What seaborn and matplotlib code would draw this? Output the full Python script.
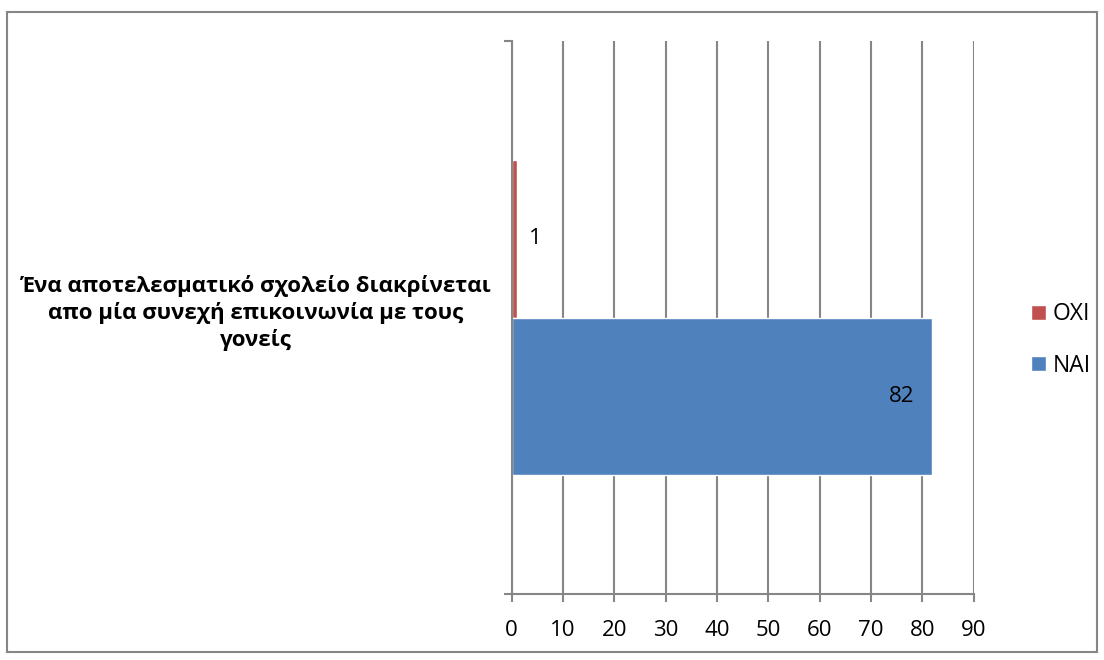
import pandas as pd
import matplotlib.pyplot as plt
import matplotlib.patches as mpatches
import seaborn as sns

question = "Ένα αποτελεσματικό σχολείο διακρίνεται\nαπο μία συνεχή επικοινωνία με τους\nγονείς"
answers = ["ΟΧΙ", "ΝΑΙ"]
counts = [1, 82]
x_ticks = [0, 10, 20, 30, 40, 50, 60, 70, 80, 90]

red = "#C0504D"
blue = "#4F81BD"
gray = "#868686"

a = pd.DataFrame({"question": [question] * len(answers), "answer": answers, "count": counts})

sns.set_style("white")
plt.rcParams["font.family"] = ["Open Sans", "DejaVu Sans"]
plt.rcParams["text.color"] = "black"
plt.rcParams["xtick.labelcolor"] = "black"

fig = plt.figure(figsize=(11.04, 6.6), dpi=100)
ax = fig.add_axes([511.7 / 1104, 1 - 594 / 660, (973.5 - 511.7) / 1104, (594 - 41) / 660])

sns.barplot(
    data=a, x="count", y="question", hue="answer", hue_order=answers,
    palette=[red, blue], orient="h", width=0.571, saturation=1, ax=ax
)

# value labels
for cont, v in zip(ax.containers, counts):
    bar = cont.patches[0]
    yc = bar.get_y() + bar.get_height() / 2
    if v > 10:
        ax.annotate(str(v), (v, yc), xytext=(-13, 0), textcoords="offset points",
                    ha="right", va="center", fontsize=16)
    else:
        ax.annotate(str(v), (v, yc), xytext=(9, 0), textcoords="offset points",
                    ha="left", va="center", fontsize=16)

ax.set_xlim(0, 90)
ax.set_xticks(x_ticks)
ax.set_xticklabels([str(t) for t in x_ticks])
ax.grid(axis="x", color=gray, linewidth=1.5)
ax.set_axisbelow(True)
ax.set_xlabel("")
ax.set_ylabel("")

for s in ["top", "right"]:
    ax.spines[s].set_visible(False)
for s in ["left", "bottom"]:
    ax.spines[s].set_color(gray)
    ax.spines[s].set_linewidth(1.5)

ax.tick_params(axis="x", length=6, width=1.5, color=gray, labelsize=16, pad=13, bottom=True)
ax.set_yticks([-0.5, 0.5], minor=True)
ax.tick_params(axis="y", which="minor", length=6, width=1.5, color=gray, left=True)
ax.set_yticks([0])
ax.set_yticklabels([""])
ax.tick_params(axis="y", which="major", length=0)

# category label, placed on the category position of the y axis
ax.annotate(question, xy=(0, 0), xycoords=ax.get_yaxis_transform(),
            xytext=(-15, 3), textcoords="offset points",
            ha="right", va="center", multialignment="center",
            fontsize=16, fontweight="bold", linespacing=1.3)

h, l = ax.get_legend_handles_labels()
ax.get_legend().remove()
fig.legend(h, l, loc="center left", bbox_to_anchor=(1031 / 1104, 1 - 340 / 660),
           frameon=False, fontsize=16.5, handlelength=0.65, handleheight=0.65,
           handletextpad=0.3, labelspacing=1.2, borderpad=0, borderaxespad=0)

fig.patches.append(mpatches.Rectangle((7 / 1104, 1 - 652 / 660), 1090 / 1104, 640 / 660,
                                      transform=fig.transFigure, fill=False,
                                      edgecolor=gray, linewidth=1.5))

plt.savefig("out.png", dpi=100)
